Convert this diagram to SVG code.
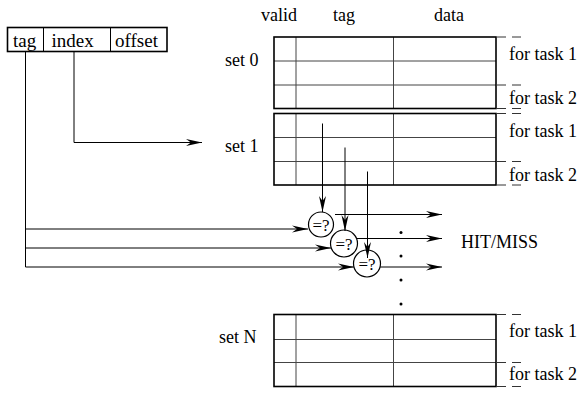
<svg xmlns="http://www.w3.org/2000/svg" width="578" height="394" viewBox="0 0 578 394" font-family="'Liberation Serif', 'Times New Roman', serif">
<style>
text{font-family:'Liberation Serif','Times New Roman',serif;font-size:18px;fill:#000}
.addr{font-size:19px}
.cmp{font-size:17px;text-anchor:middle}
.outer{fill:none;stroke:#000;stroke-width:1.6}
.inner{stroke:#444;stroke-width:1;fill:none}
.dash{stroke:#333;stroke-width:1;stroke-dasharray:9 6;fill:none}
.ln{stroke:#000;stroke-width:1;fill:none}
.arr{stroke:#000;stroke-width:1;fill:none;marker-end:url(#ah)}
.circ{fill:#fff;stroke:#000;stroke-width:1.2}
</style>
<defs>
<marker id="ah" viewBox="-16 -4 17 8" refX="0" refY="0" markerWidth="17" markerHeight="8" orient="auto" markerUnits="userSpaceOnUse">
<path d="M0,0 L-16,-3.5 L-11,0 L-16,3.5 Z" fill="#000"/>
</marker>
</defs>
<rect width="578" height="394" fill="#fff"/>

<g id="address">
<rect x="7.5" y="27.5" width="159.5" height="24" class="outer" stroke-width="1.3"/>
<line x1="43.5" y1="27.5" x2="43.5" y2="51.5" class="ln"/>
<line x1="110.5" y1="27.5" x2="110.5" y2="51.5" class="ln"/>
<text x="13" y="47" class="addr">tag</text>
<text x="51.5" y="47" class="addr">index</text>
<text x="115" y="47" class="addr" font-size="20px">offset</text>
</g>

<g id="header">
<text x="261" y="21">valid</text>
<text x="333" y="21">tag</text>
<text x="434" y="21">data</text>
</g>

<g id="set0">
<text x="225" y="66">set 0</text>
<line x1="274" y1="61" x2="496" y2="61" class="inner"/>
<line x1="274" y1="85" x2="496" y2="85" class="inner"/>
<line x1="296" y1="37" x2="296" y2="108.5" class="inner"/>
<line x1="393.5" y1="37" x2="393.5" y2="108.5" class="inner"/>
<rect x="274" y="37" width="222" height="71.5" class="outer"/>
<line x1="497" y1="37" x2="525" y2="37" class="dash"/>
<line x1="497" y1="85" x2="525" y2="85" class="dash"/>
<line x1="497" y1="108.5" x2="525" y2="108.5" class="dash"/>
<text x="509" y="60">for task 1</text>
<text x="509" y="104">for task 2</text>
</g>

<g id="set1">
<text x="225" y="152">set 1</text>
<line x1="274" y1="137.5" x2="496" y2="137.5" class="inner"/>
<line x1="274" y1="161.5" x2="496" y2="161.5" class="inner"/>
<line x1="296" y1="113.5" x2="296" y2="185" class="inner"/>
<line x1="393.5" y1="113.5" x2="393.5" y2="185" class="inner"/>
<rect x="274" y="113.5" width="222" height="71.5" class="outer"/>
<line x1="497" y1="113.5" x2="525" y2="113.5" class="dash"/>
<line x1="497" y1="161.5" x2="525" y2="161.5" class="dash"/>
<line x1="497" y1="185" x2="525" y2="185" class="dash"/>
<text x="509" y="137">for task 1</text>
<text x="509" y="181">for task 2</text>
</g>

<g id="setN">
<text x="219" y="343">set N</text>
<line x1="274" y1="339.5" x2="496" y2="339.5" class="inner"/>
<line x1="274" y1="362.5" x2="496" y2="362.5" class="inner"/>
<line x1="296" y1="314.5" x2="296" y2="386.5" class="inner"/>
<line x1="393.5" y1="314.5" x2="393.5" y2="386.5" class="inner"/>
<rect x="274" y="314.5" width="222" height="72" class="outer"/>
<line x1="497" y1="314.5" x2="525" y2="314.5" class="dash"/>
<line x1="497" y1="362.5" x2="525" y2="362.5" class="dash"/>
<line x1="497" y1="386.5" x2="525" y2="386.5" class="dash"/>
<text x="509" y="337">for task 1</text>
<text x="509" y="380">for task 2</text>
</g>

<g id="connectors">
<polyline points="74,51.5 74,142.5 202,142.5" class="arr"/>
<line x1="25.5" y1="51.5" x2="25.5" y2="267" class="ln"/>
<line x1="25.5" y1="229" x2="308" y2="229" class="arr"/>
<line x1="25.5" y1="248" x2="331" y2="248" class="arr"/>
<line x1="25.5" y1="267" x2="354" y2="267" class="arr"/>
<line x1="335" y1="214.5" x2="442" y2="214.5" class="arr"/>
<line x1="357" y1="238.5" x2="442" y2="238.5" class="arr"/>
<line x1="380" y1="267" x2="442" y2="267" class="arr"/>
</g>

<g id="cmp1">
<circle cx="321" cy="224.5" r="12.5" class="circ"/>
<text x="321" y="230.5" class="cmp">=?</text>
</g>
<g id="cmp2">
<circle cx="344" cy="243.5" r="13.5" class="circ"/>
<text x="344" y="249.5" class="cmp">=?</text>
</g>
<g id="cmp3">
<circle cx="367" cy="263.5" r="13.5" class="circ"/>
<text x="367" y="269.5" class="cmp">=?</text>
</g>

<g id="tagreads">
<line x1="322.5" y1="123.5" x2="322.5" y2="212" class="arr"/>
<line x1="345" y1="147.5" x2="345" y2="231" class="arr"/>
<line x1="367.5" y1="171.5" x2="367.5" y2="258" class="arr"/>
</g>

<g id="dots" fill="#000">
<circle cx="401" cy="232.5" r="1.5"/>
<circle cx="401" cy="256" r="1.5"/>
<circle cx="401" cy="280" r="1.5"/>
<circle cx="401" cy="304" r="1.5"/>
</g>

<g id="hitmiss">
<text x="461" y="248" font-size="20px">HIT/MISS</text>
</g>
</svg>
